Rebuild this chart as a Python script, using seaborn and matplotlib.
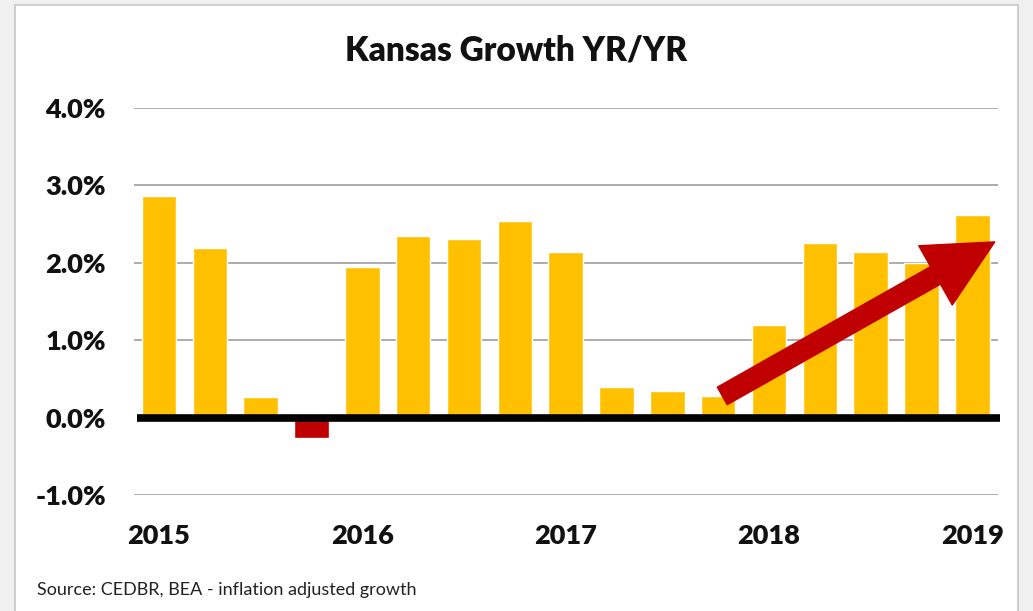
import matplotlib
matplotlib.use('Agg')
import matplotlib.pyplot as plt
import seaborn as sns
import pandas as pd
from matplotlib.patches import Rectangle, FancyArrowPatch

# quarterly year-over-year growth, 2015 Q1 .. 2019 Q1 (percent)
quarters = ['2015Q1', '2015Q2', '2015Q3', '2015Q4',
            '2016Q1', '2016Q2', '2016Q3', '2016Q4',
            '2017Q1', '2017Q2', '2017Q3', '2017Q4',
            '2018Q1', '2018Q2', '2018Q3', '2018Q4',
            '2019Q1']
growth = [2.86, 2.19, 0.27, -0.26,
          1.94, 2.34, 2.31, 2.54,
          2.14, 0.40, 0.35, 0.28,
          1.19, 2.25, 2.14, 2.00,
          2.62]
year_labels = ['2015', '2016', '2017', '2018', '2019']
y_ticks = [-1, 0, 1, 2, 3, 4]

df = pd.DataFrame({'quarter': quarters, 'growth': growth})
colors = ['#C00000' if g < 0 else '#FFC000' for g in growth]

sns.set_style('white')
plt.rcParams['font.family'] = ['Lato', 'DejaVu Sans']

fig = plt.figure(figsize=(10.33, 6.11), dpi=100)
fig.patch.set_facecolor('#f0f0f0')
fig.patches.append(Rectangle((15 / 1033, -0.05), 1003 / 1033, 1.0 - 5 / 611 + 0.05,
                             transform=fig.transFigure, facecolor='white',
                             edgecolor='#c8c8c8', linewidth=1.2, zorder=-1))

ax = fig.add_axes([133.6 / 1033, 1 - 495 / 611, (997.8 - 133.6) / 1033, (495 - 108) / 611])
ax.set_facecolor('none')
ax.set_zorder(2)

sns.barplot(data=df, x='quarter', y='growth', hue='quarter', palette=colors,
            legend=False, width=0.68, saturation=1, ax=ax, zorder=3)

ax.set_xlim(-0.5, len(quarters) - 0.5)
ax.set_ylim(-1, 4)
ax.set_yticks(y_ticks)
ax.set_yticklabels([f'{t:.1f}%' for t in y_ticks])
ax.set_xticks([0, 4, 8, 12, 16])
ax.set_xticklabels(year_labels)
ax.set_xlabel('')
ax.set_ylabel('')
ax.tick_params(axis='both', length=0, labelsize=19.5, labelcolor='#111111')
ax.tick_params(axis='y', pad=20)
ax.tick_params(axis='x', pad=21)
for lab in ax.get_xticklabels() + ax.get_yticklabels():
    lab.set_fontweight('heavy')

for t in y_ticks:
    if t != 0:
        ax.axhline(t, color='#a6a6a6', linewidth=1.3, zorder=1)
ax.axhline(0, xmin=0.004, xmax=1.003, color='black', linewidth=5.5, zorder=4,
           clip_on=False, solid_capstyle='butt')
for s in ax.spines.values():
    s.set_visible(False)

# trend arrow
arrow = FancyArrowPatch((11.08, 0.28), (16.44, 2.27),
                        arrowstyle='simple,head_length=4.9,head_width=4.9,tail_width=1.45',
                        mutation_scale=10, color='#C00000', shrinkA=0, shrinkB=0,
                        clip_on=False, zorder=5)
ax.add_patch(arrow)

fig.text(0.5, 1 - 50 / 611, 'Kansas Growth YR/YR', ha='center', va='center',
         fontsize=24, fontweight='heavy', color='#111111')
fig.text(37 / 1033, 1 - 590 / 611, 'Source: CEDBR, BEA - inflation adjusted growth',
         ha='left', va='center', fontsize=13, color='#222222')

fig.savefig('out.png', dpi=100, facecolor=fig.get_facecolor())
